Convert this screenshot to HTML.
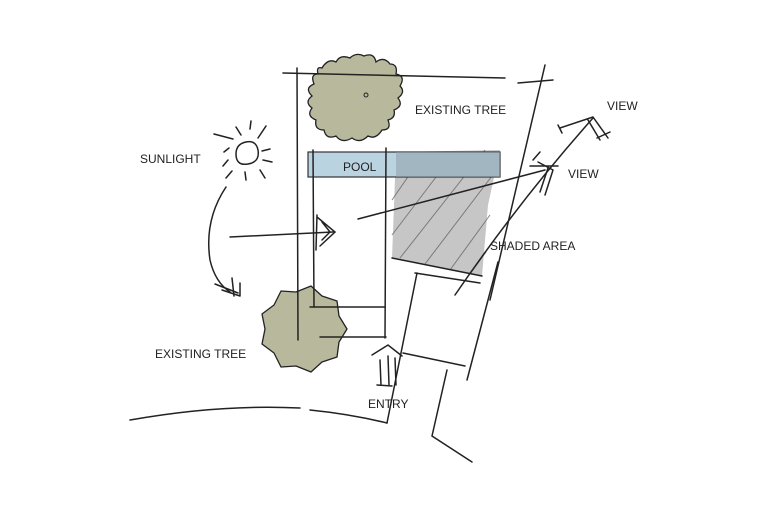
<!DOCTYPE html>
<html><head><meta charset="utf-8"><style>
html,body{margin:0;padding:0;background:#fff;}
svg{display:block;}
text{font-family:"Liberation Sans",sans-serif;font-size:12px;fill:#222;}
</style></head><body>
<svg width="780" height="530" viewBox="0 0 780 530" xmlns="http://www.w3.org/2000/svg">
<!-- shaded area -->
<polygon points="396,152 500,150 488,205 482,276 392,258" fill="#c6c6c6"/>
<g stroke="#666" stroke-width="1" opacity="0.8">
<line x1="392" y1="200" x2="425" y2="152"/>
<line x1="392" y1="235" x2="455" y2="152"/>
<line x1="400" y1="258" x2="485" y2="150"/>
<line x1="425" y1="264" x2="495" y2="172"/>
<line x1="450" y1="270" x2="490" y2="215"/>
<line x1="470" y1="274" x2="486" y2="252"/>
</g>
<!-- pool -->
<rect x="308" y="152" width="192" height="25" fill="#b9d3e0" stroke="#333" stroke-width="1.2"/>
<rect x="396" y="152" width="104" height="25" fill="#8f9ea8" opacity="0.55"/>
<text x="343" y="171" font-size="13">POOL</text>
<!-- trees -->
<path d="M322,68 q6,-10 14,-6 q4,-8 14,-4 q6,-6 14,-2 q10,-4 12,6 q8,-6 14,2 q8,0 6,10 q10,2 4,12 q6,6 -2,12 q6,8 -4,12 q2,8 -6,10 q4,10 -6,10 q-6,10 -14,6 q-8,8 -16,2 q-10,6 -16,-2 q-10,4 -12,-6 q-10,0 -8,-10 q-10,-4 -4,-12 q-8,-6 0,-12 q-8,-8 2,-12 q-4,-10 4,-10 q-2,-8 4,-6z" fill="#b8b99c" stroke="#222" stroke-width="1.3"/>
<circle cx="366" cy="95" r="2" fill="none" stroke="#222"/>
<polygon points="347,329 339,342 337,357 322,362 311,372 296,366 281,367 274,353 262,344 265,329 262,314 274,305 281,291 296,292 311,286 322,296 337,301 339,316" fill="#b8b99c" stroke="#222" stroke-width="1.3" stroke-linejoin="round"/>
<g stroke="#222" stroke-width="1.5" fill="none" stroke-linecap="round">
<!-- structure lines -->
<path d="M283,73 L505,78"/>
<path d="M518,83 L553,80"/>
<path d="M297,68 L298,340"/>
<path d="M313,150 L314,307"/>
<path d="M386,148 L385,338"/>
<path d="M310,307 L385,307"/>
<path d="M320,337 L386,337"/>
<path d="M545,65 L490,300"/>
<path d="M498,262 L467,380"/>
<path d="M447,370 L432,436 L472,462"/>
<path d="M392,258 L482,276"/>
<path d="M415,273 L480,283"/>
<path d="M417,273 L387,423"/>
<path d="M403,353 L465,366"/>
<path d="M130,420 Q220,404 300,408"/>
<path d="M310,410 Q350,414 387,423"/>
<!-- sight lines -->
<path d="M230,237 L333,232"/>
<path d="M358,219 Q450,195 545,170"/>
<path d="M455,295 Q520,200 593,118"/>
<!-- arrows -->
<path d="M317,217 L335,232 L320,246 M322,222 L330,232 L322,240 M317,215 L316,250"/>
<path d="M553,170 L538,162 M553,170 L545,195 M548,168 L540,192 M533,160 L540,152 M530,166 L558,166"/>
<path d="M593,117 L560,128 M593,117 L608,138 M588,120 L600,140 M558,125 L562,133 M597,138 L610,132"/>
<path d="M372,355 L388,345 L402,356 M380,360 L381,385 M388,356 L389,385 M395,358 L396,385 M377,385 L392,386"/>
<!-- sun -->
<path d="M246,142 q10,-2 12,8 q2,12 -10,14 q-12,2 -12,-10 q0,-10 10,-12z"/>
<path d="M241,135 L236,127 M250,129 L251,121 M258,138 L266,126 M262,151 L270,149 M263,160 L272,162 M260,170 L265,178 M245,172 L246,180 M232,171 L226,178 M228,160 L223,166 M229,148 L224,152 M233,139 L214,134"/>
<path d="M226,187 Q204,220 210,260 Q215,282 230,292"/>
<path d="M215,284 L238,293 M222,290 L240,296 M232,278 L234,296 M240,283 L240,296"/>
</g>
<text x="415" y="114">EXISTING TREE</text>
<text x="140" y="163">SUNLIGHT</text>
<text x="607" y="110">VIEW</text>
<text x="568" y="178">VIEW</text>
<text x="490" y="250">SHADED AREA</text>
<text x="155" y="358">EXISTING TREE</text>
<text x="368" y="408">ENTRY</text>
</svg>
</body></html>
